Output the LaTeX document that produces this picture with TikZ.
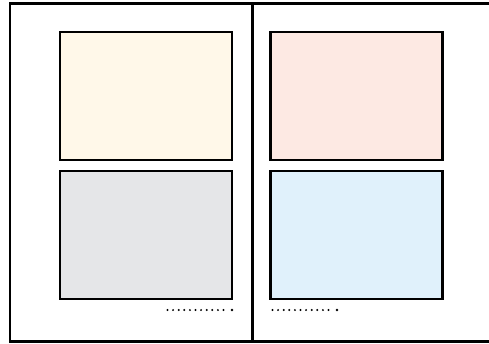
\documentclass[tikz,border=0pt]{standalone}
\usepackage{xcolor}
\usepackage{tikz}
\definecolor{cream}{HTML}{FFF8E9}
\definecolor{blush}{HTML}{FDE9E3}
\definecolor{ash}{HTML}{E5E6E8}
\definecolor{sky}{HTML}{E0F1FB}
\tikzset{
  panel/.style={draw=black,line width=2.3pt,minimum width=172pt,minimum height=128pt,inner sep=0pt,outer sep=0pt},
  dotrow/.style={line width=2.2pt,line cap=round,dash pattern=on 0pt off 5.6pt}
}

\begin{document}
\begin{tikzpicture}[x=1pt,y=-1pt]
\useasboundingbox (0,0) rectangle (489,343);
\draw[line width=2.4pt] (495,3.5) -- (9.8,3.5) -- (9.8,341.5) -- (495,341.5);
\draw[line width=2.4pt] (252.5,3.5) -- (252.5,341.5);
\node[panel,fill=cream] (pageA) at (146,96) {};
\node[panel,fill=blush] (pageB) at (356.5,96) {};
\node[panel,fill=ash] (pageC) at (146,235) {};
\node[panel,fill=sky] (pageD) at (356.5,235) {};
\draw[dotrow] (167.5,310) -- (226,310);
\fill (232,310) circle (1.3pt);
\draw[dotrow] (272.5,310) -- (329,310);
\fill (337,310) circle (1.3pt);
\end{tikzpicture}
\end{document}
